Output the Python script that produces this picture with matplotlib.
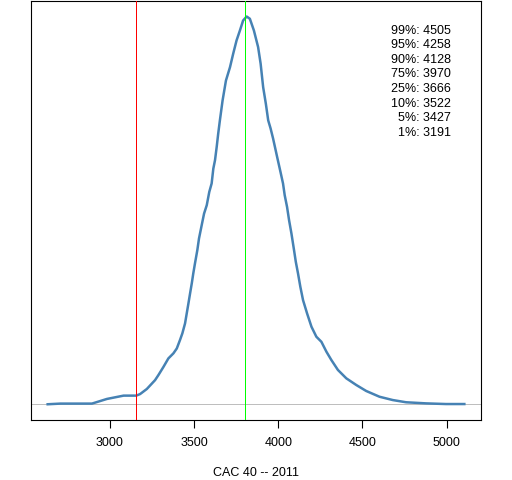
"""
Density of simulated CAC 40 year-end values (2011) with quantile labels.
"""

import matplotlib
matplotlib.use("Agg")
import matplotlib.pyplot as plt
import numpy as np

# Density curve (index level, density)
cac_level = [2630, 2706, 2893, 2982, 3081, 3156, 3179, 3219, 3268, 3288,
             3318, 3347, 3377, 3397, 3416, 3430, 3446, 3456, 3466, 3476,
             3486, 3495, 3505, 3519, 3529,
             3545, 3559, 3575, 3590, 3604, 3614, 3624, 3634, 3643, 3653,
             3669, 3689, 3713, 3732, 3752, 3772, 3791, 3812, 3831, 3855,
             3880, 3895, 3910, 3926, 3940, 3954, 3969, 3993, 4013, 4028,
             4038, 4052, 4064, 4078, 4092, 4104, 4117, 4131, 4147, 4171,
             4197, 4226, 4256, 4286, 4315, 4354, 4404, 4463, 4522, 4601,
             4680, 4759, 4878, 4996, 5105]
density_e4 = [0.01, 0.04, 0.04, 0.25, 0.40, 0.40, 0.47, 0.70, 1.10, 1.33,
              1.70, 2.08, 2.31, 2.53, 2.91, 3.21, 3.66, 4.11, 4.56, 5.02,
              5.47, 5.92, 6.37, 6.97, 7.50,
              8.10, 8.62, 9.00, 9.60, 9.98, 10.65, 11.03, 11.63, 12.23, 12.83,
              13.73, 14.63, 15.23, 15.84, 16.44, 16.89, 17.34, 17.52, 17.42, 16.89,
              16.14, 15.39, 14.33, 13.58, 12.83, 12.47, 12.01, 11.18, 10.50, 9.98,
              9.45, 8.92, 8.32, 7.72, 7.04, 6.44, 5.92, 5.31, 4.71, 4.11,
              3.51, 3.06, 2.83, 2.38, 2.01, 1.56, 1.18, 0.88, 0.61, 0.35,
              0.20, 0.10, 0.05, 0.02, 0.02]

# Reference lines
start_level = 3157
current_level = 3803

# Quantile table shown top right
quantile_names = ["99%", "95%", "90%", "75%", "25%", "10%", "5%", "1%"]
quantile_values = [4505, 4258, 4128, 3970, 3666, 3522, 3427, 3191]

x_ticks = [3000, 3500, 4000, 4500, 5000]
x_label = "CAC 40 -- 2011"

plt.rcParams['font.family'] = ['Liberation Sans', 'DejaVu Sans']

x = np.array(cac_level, dtype=float)
y = np.array(density_e4) * 1e-4

fig = plt.figure(figsize=(5.12, 4.80), dpi=100)
ax = fig.add_axes([31 / 512, 60 / 480, 450 / 512, 419 / 480])

ax.axhline(0, color='#BEBEBE', linewidth=0.5, antialiased=False, zorder=1)
ax.plot(x, y, color='steelblue', linewidth=1.8, zorder=2)
ax.axvline(start_level, color='red', linewidth=0.5, antialiased=False, zorder=3)
ax.axvline(current_level, color='#00FF00', linewidth=0.5, antialiased=False, zorder=3)

# R-style 4% padding around the data
xr = x.max() - x.min()
ax.set_xlim(x.min() - 0.04 * xr, x.max() + 0.04 * xr)
ax.set_ylim(-0.04 * y.max(), 1.04 * y.max())

ax.set_xticks(x_ticks)
ax.set_xticklabels([str(t) for t in x_ticks], fontsize=9)
ax.tick_params(axis='x', direction='out', length=6, width=0.8, pad=6)
ax.set_yticks([])
for spine in ax.spines.values():
    spine.set_linewidth(0.8)

ax.set_xlabel(x_label, fontsize=9, labelpad=13)

# Quantile labels, right aligned
for i, (name, val) in enumerate(zip(quantile_names, quantile_values)):
    ax.text(0.933, 0.929 - i * 0.0348, f"{name}: {val}", transform=ax.transAxes,
            ha='right', va='center', fontsize=9)

plt.savefig("out.png", dpi=100)
plt.close()
